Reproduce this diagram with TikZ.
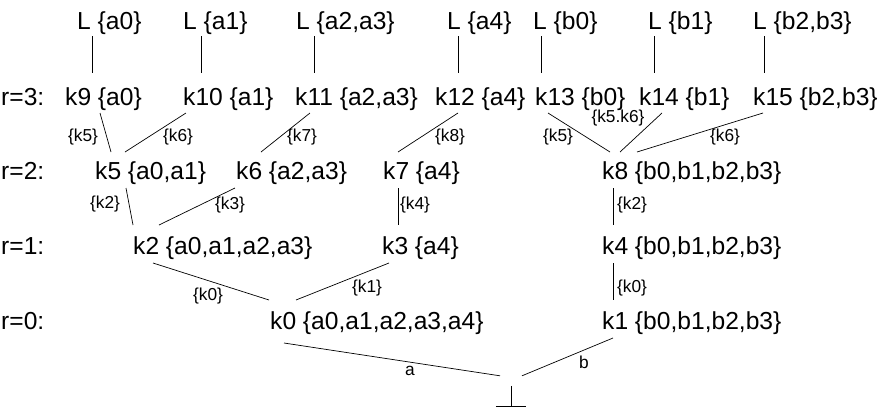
\documentclass[tikz,border=0pt]{standalone}
\usepackage{fontspec}
\setmainfont{Liberation Sans}
\begin{document}
\begin{tikzpicture}[x=1pt,y=-1pt,
  lbl/.style={anchor=base west,inner sep=0,font=\fontsize{24.6}{28}\selectfont},
  el/.style={inner sep=0,font=\fontsize{17.3}{19}\selectfont},
  edge/.style={line width=0.7pt}]
\useasboundingbox (0,0) rectangle (881,408);
% top leaves
\node[lbl] (La0) at (77,29) {L \{a0\}};
\node[lbl] (La1) at (183,29) {L \{a1\}};
\node[lbl] (La2) at (296,29) {L \{a2,a3\}};
\node[lbl] (La4) at (447,29) {L \{a4\}};
\node[lbl] (Lb0) at (533,29) {L \{b0\}};
\node[lbl] (Lb1) at (648,29) {L \{b1\}};
\node[lbl] (Lb2) at (753,29) {L \{b2,b3\}};
% r=3
\node[lbl] (r3) at (1,105) {r=3:};
\node[lbl] (k9) at (65,105) {k9 \{a0\}};
\node[lbl] (k10) at (183,105) {k10 \{a1\}};
\node[lbl] (k11) at (295,105) {k11 \{a2,a3\}};
\node[lbl] (k12) at (435,105) {k12 \{a4\}};
\node[lbl] (k13) at (535,105) {k13 \{b0\}};
\node[lbl] (k14) at (639,105) {k14 \{b1\}};
\node[lbl] (k15) at (753,105) {k15 \{b2,b3\}};
% r=2
\node[lbl] (r2) at (1,179) {r=2:};
\node[lbl] (k5) at (95,179) {k5 \{a0,a1\}};
\node[lbl] (k6) at (236,179) {k6 \{a2,a3\}};
\node[lbl] (k7) at (383,179) {k7 \{a4\}};
\node[lbl] (k8) at (602,179) {k8 \{b0,b1,b2,b3\}};
% r=1
\node[lbl] (r1) at (1,254) {r=1:};
\node[lbl] (k2) at (133,254) {k2 \{a0,a1,a2,a3\}};
\node[lbl] (k3) at (382,254) {k3 \{a4\}};
\node[lbl] (k4) at (602,254) {k4 \{b0,b1,b2,b3\}};
% r=0
\node[lbl] (r0) at (1,329) {r=0:};
\node[lbl] (k0) at (270,329) {k0 \{a0,a1,a2,a3,a4\}};
\node[lbl] (k1) at (602,329) {k1 \{b0,b1,b2,b3\}};
% bottom
\node[inner sep=0,minimum width=30pt,minimum height=20pt] (bot) at (511,396) {};
\draw[edge] (bot.north) -- (bot.south);
\draw[edge] (bot.south west) -- (bot.south east);

% leaf lines
\draw[edge] ([shift={(15,7)}]La0.base west) -- ([shift={(27,-32)}]k9.base west);
\draw[edge] ([shift={(18,7)}]La1.base west) -- ([shift={(18,-32)}]k10.base west);
\draw[edge] ([shift={(18,7)}]La2.base west) -- ([shift={(19,-32)}]k11.base west);
\draw[edge] ([shift={(11,7)}]La4.base west) -- ([shift={(23,-32)}]k12.base west);
\draw[edge] ([shift={(8,7)}]Lb0.base west) -- ([shift={(6,-32)}]k13.base west);
\draw[edge] ([shift={(6,7)}]Lb1.base west) -- ([shift={(15,-32)}]k14.base west);
\draw[edge] ([shift={(11,7)}]Lb2.base west) -- ([shift={(11,-32)}]k15.base west);

% r3 -> r2
\draw[edge] ([shift={(35,8)}]k9.base west) -- ([shift={(16,-27)}]k5.base west);
\draw[edge] ([shift={(3,8)}]k10.base west) -- ([shift={(30,-27)}]k5.base west);
\draw[edge] ([shift={(15,8)}]k11.base west) -- ([shift={(25,-27)}]k6.base west);
\draw[edge] ([shift={(23,8)}]k12.base west) -- ([shift={(15,-27)}]k7.base west);
\draw[edge] ([shift={(13,8)}]k13.base west) -- ([shift={(8,-27)}]k8.base west);
\draw[edge] ([shift={(23,8)}]k14.base west) -- ([shift={(18,-27)}]k8.base west);
\draw[edge] ([shift={(10,8)}]k15.base west) -- ([shift={(35,-27)}]k8.base west);
\node[el] (e1) at (83,137) {\{k5\}};
\node[el] (e2) at (178,137) {\{k6\}};
\node[el] (e3) at (302,137) {\{k7\}};
\node[el] (e4) at (450,137) {\{k8\}};
\node[el] (e5) at (558,137) {\{k5\}};
\node[el] (e6) at (618,118) {\{k5.k6\}};
\node[el] (e7) at (725,137) {\{k6\}};

% r2 -> r1
\draw[edge] ([shift={(31,9)}]k5.base west) -- ([shift={(0,-29)}]k2.base west);
\draw[edge] ([shift={(-1,9)}]k6.base west) -- ([shift={(26,-29)}]k2.base west);
\draw[edge] ([shift={(15,9)}]k7.base west) -- ([shift={(16,-29)}]k3.base west);
\draw[edge] ([shift={(11,9)}]k8.base west) -- ([shift={(11,-29)}]k4.base west);
\node[el] (e8) at (105,204) {\{k2\}};
\node[el] (e9) at (230,205) {\{k3\}};
\node[el] (e10) at (415,205) {\{k4\}};
\node[el] (e11) at (632,205) {\{k2\}};

% r1 -> r0
\draw[edge] ([shift={(20,9)}]k2.base west) -- ([shift={(-1,-29)}]k0.base west);
\draw[edge] ([shift={(7,9)}]k3.base west) -- ([shift={(26,-29)}]k0.base west);
\draw[edge] ([shift={(11,9)}]k4.base west) -- ([shift={(11,-29)}]k1.base west);
\node[el] (e12) at (208,296) {\{k0\}};
\node[el] (e13) at (367,288) {\{k1\}};
\node[el] (e14) at (632,288) {\{k0\}};

% r0 -> bottom
\draw[edge] ([shift={(14,14)}]k0.base west) -- ([shift={(-11,-10)}]bot.north);
\draw[edge] ([shift={(11,9)}]k1.base west) -- ([shift={(11,-10)}]bot.north);
\node[el] (ea) at (410,371) {a};
\node[el] (eb) at (584,362) {b};
\end{tikzpicture}
\end{document}
